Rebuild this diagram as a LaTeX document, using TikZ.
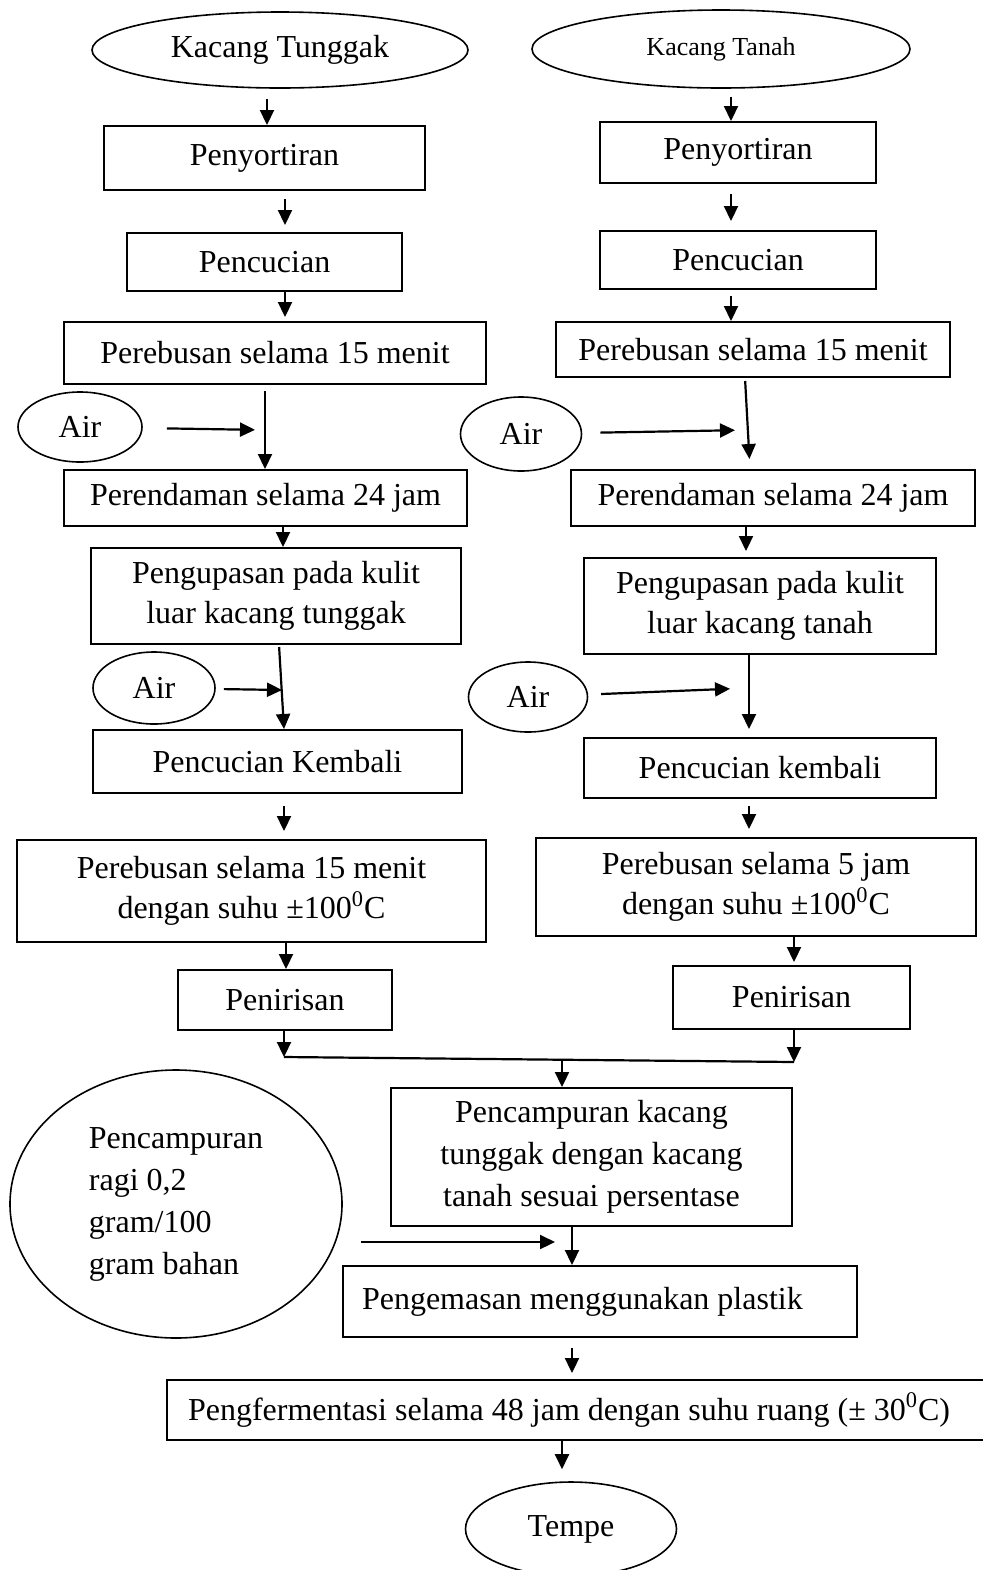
\documentclass[tikz,border=0pt]{standalone}
\usepackage{fontspec}
\setmainfont{Liberation Serif}
\usetikzlibrary{shapes,arrows.meta,positioning}

\tikzset{
  box/.style={draw, rectangle, inner sep=0pt, align=center, line width=1pt},
  oval/.style={draw, ellipse, inner sep=0pt, align=center, line width=0.8pt},
  arr/.style={-{Triangle[width=7pt,length=7.5pt]}, line width=1.1pt},
  ln/.style={line width=1.1pt},
}

\begin{document}
\begin{tikzpicture}[x=0.5pt, y=-0.5pt, font=\fontsize{16}{20}\selectfont]
    \useasboundingbox (0,0) rectangle (983,1570);
    % bahan awal
    \node[oval, minimum width=188pt, minimum height=38pt] (ktg) at (280,50) {Kacang Tunggak};
    \node[oval, minimum width=189pt, minimum height=39pt, font=\fontsize{13}{16}\selectfont] (ktn) at (721,49) {Kacang Tanah};
    % kolom kiri dan kanan
    \node[box, minimum width=160.5pt, minimum height=32pt] (sortL) at (264.5,158) {Penyortiran};
    \node[box, minimum width=138pt, minimum height=30.5pt] (sortR) at (738,152.5) {Penyortiran};
    \node[box, minimum width=137.5pt, minimum height=29pt] (cuciL) at (264.5,262) {Pencucian};
    \node[box, minimum width=138pt, minimum height=29pt] (cuciR) at (738,260) {Pencucian};
    \node[box, minimum width=211pt, minimum height=31pt] (rebusL) at (275,353) {Perebusan selama 15 menit};
    \node[box, minimum width=197pt, minimum height=27.5pt] (rebusR) at (753,349.5) {Perebusan selama 15 menit};
    \node[oval, minimum width=62pt, minimum height=35pt] (airA) at (80,427) {Air};
    \node[oval, minimum width=60.5pt, minimum height=37pt] (airB) at (521,434) {Air};
    \node[box, minimum width=201.5pt, minimum height=28pt] (rendamL) at (265.5,498) {Perendaman selama 24 jam};
    \node[box, minimum width=202pt, minimum height=28pt] (rendamR) at (773,498) {Perendaman selama 24 jam};
    \node[box, minimum width=185pt, minimum height=48pt] (kupasL) at (276,596) {Pengupasan pada kulit\\luar kacang tunggak};
    \node[box, minimum width=176pt, minimum height=48pt] (kupasR) at (760,606) {Pengupasan pada kulit\\luar kacang tanah};
    \node[oval, minimum width=61pt, minimum height=36pt] (airC) at (154,688) {Air};
    \node[oval, minimum width=59.5pt, minimum height=35pt] (airD) at (528,697) {Air};
    \node[box, minimum width=184.5pt, minimum height=31.5pt] (kembaliL) at (277.5,761.5) {Pencucian Kembali};
    \node[box, minimum width=176pt, minimum height=30pt] (kembaliR) at (760,768) {Pencucian kembali};
    \node[box, minimum width=234.5pt, minimum height=51pt] (rebus2L) at (251.5,891) {Perebusan selama 15 menit\\dengan suhu ±100\textsuperscript{0}C};
    \node[box, minimum width=220pt, minimum height=49pt] (rebus2R) at (756,887) {Perebusan selama 5 jam\\dengan suhu ±100\textsuperscript{0}C};
    \node[box, minimum width=107pt, minimum height=30pt] (tirisL) at (285,1000) {Penirisan};
    \node[box, minimum width=118.5pt, minimum height=31.5pt] (tirisR) at (791.5,997.5) {Penirisan};
    % penggabungan
    \node[box, minimum width=200.5pt, minimum height=69pt, font=\fontsize{16}{21}\selectfont] (campur) at (591.5,1157) {Pencampuran kacang\\tunggak dengan kacang\\tanah sesuai persentase};
    \node[oval, minimum width=166pt, minimum height=134pt, align=flush left, font=\fontsize{16}{21}\selectfont] (ragi) at (176,1204) {Pencampuran\\ragi 0,2\\gram/100\\gram bahan};
    \node[box, minimum height=35.5pt, text width=238pt, inner xsep=9.5pt, align=flush left] (kemas) at (600,1301.5) {Pengemasan menggunakan plastik};
    \node[box, minimum height=30pt, text width=400pt, inner xsep=10.5pt, align=flush left] (ferm) at (588,1410) {Pengfermentasi selama 48 jam dengan suhu ruang (±~30\textsuperscript{0}C)};
    \node[oval, minimum width=105.5pt, minimum height=47pt] (tempe) at (571,1529) {Tempe};

    \coordinate (jL1) at (265,430);
    \coordinate (jR1) at (748,430);
    \coordinate (jL2) at (282,690);
    \coordinate (jR2) at (749,688);
    \coordinate (mL) at (284,1057);
    \coordinate (mR) at (794,1062);
    \coordinate (mC) at (562,1060);
    \coordinate (jM) at (572,1242);

    % panah
    \draw[arr, shorten <=5pt] (ktg.south -| 267,0) -- (sortL.north -| 267,0);
    \draw[arr, shorten <=4pt] (ktn.south -| 731,0) -- (sortR.north -| 731,0);
    \draw[arr, shorten <=4pt, shorten >=3.5pt] (sortL.south -| 285,0) -- (cuciL.north -| 285,0);
    \draw[arr, shorten <=5pt, shorten >=4.5pt] (sortR.south -| 731,0) -- (cuciR.north -| 731,0);
    \draw[arr, shorten >=2pt] (cuciL.south -| 285,0) -- (rebusL.north -| 285,0);
    \draw[arr, shorten <=3pt] (cuciR.south -| 731,0) -- (rebusR.north -| 731,0);
    \draw[arr, shorten <=3pt] (rebusL.south -| jL1) -- (rendamL.north -| jL1);
    \draw[arr, shorten <=12pt, shorten >=5pt] (airA) -- (jL1);
    \draw[arr, shorten <=1.5pt, shorten >=5pt] (rebusR.south -| 745,0) -- (rendamR.north -| 750,0);
    \draw[arr, shorten <=9pt, shorten >=6.5pt] (airB) -- (jR1);
    \draw[arr] (rendamL.south -| 283,0) -- (kupasL.north -| 283,0);
    \draw[arr, shorten >=3pt] (rendamR.south -| 746,0) -- (kupasR.north -| 746,0);
    \draw[arr, shorten <=1pt] (kupasL.south -| 279,0) -- (kembaliL.north -| 284,0);
    \draw[arr, shorten <=4pt] (airC) -- (jL2);
    \draw[arr, shorten >=4pt] (kupasR.south -| jR2) -- (kembaliR.north -| jR2);
    \draw[arr, shorten <=6.5pt, shorten >=9.5pt] (airD) -- (jR2);
    \draw[arr, shorten <=6pt, shorten >=4pt] (kembaliL.south -| 284,0) -- (rebus2L.north -| 284,0);
    \draw[arr, shorten <=3.5pt, shorten >=4pt] (kembaliR.south -| 749,0) -- (rebus2R.north -| 749,0);
    \draw[arr] (rebus2L.south -| 286,0) -- (tirisL.north -| 286,0);
    \draw[arr, shorten >=1.5pt] (rebus2R.south -| 794,0) -- (tirisR.north -| 794,0);
    \draw[arr] (tirisL.south -| mL) -- (mL);
    \draw[arr] (tirisR.south -| mR) -- (mR);
    \draw[ln] (mL) -- (mR);
    \draw[arr] (mC) -- (campur.north -| mC);
    \draw[arr] (campur.south -| jM) -- (kemas.north -| jM);
    \draw[arr, shorten <=9pt, shorten >=8.5pt] (ragi.east |- jM) -- (jM);
    \draw[arr, shorten <=5pt, shorten >=3pt] (kemas.south -| 572,0) -- (ferm.north -| 572,0);
    \draw[arr, shorten >=6pt] (ferm.south -| 562,0) -- (tempe.north -| 562,0);
\end{tikzpicture}
\end{document}
